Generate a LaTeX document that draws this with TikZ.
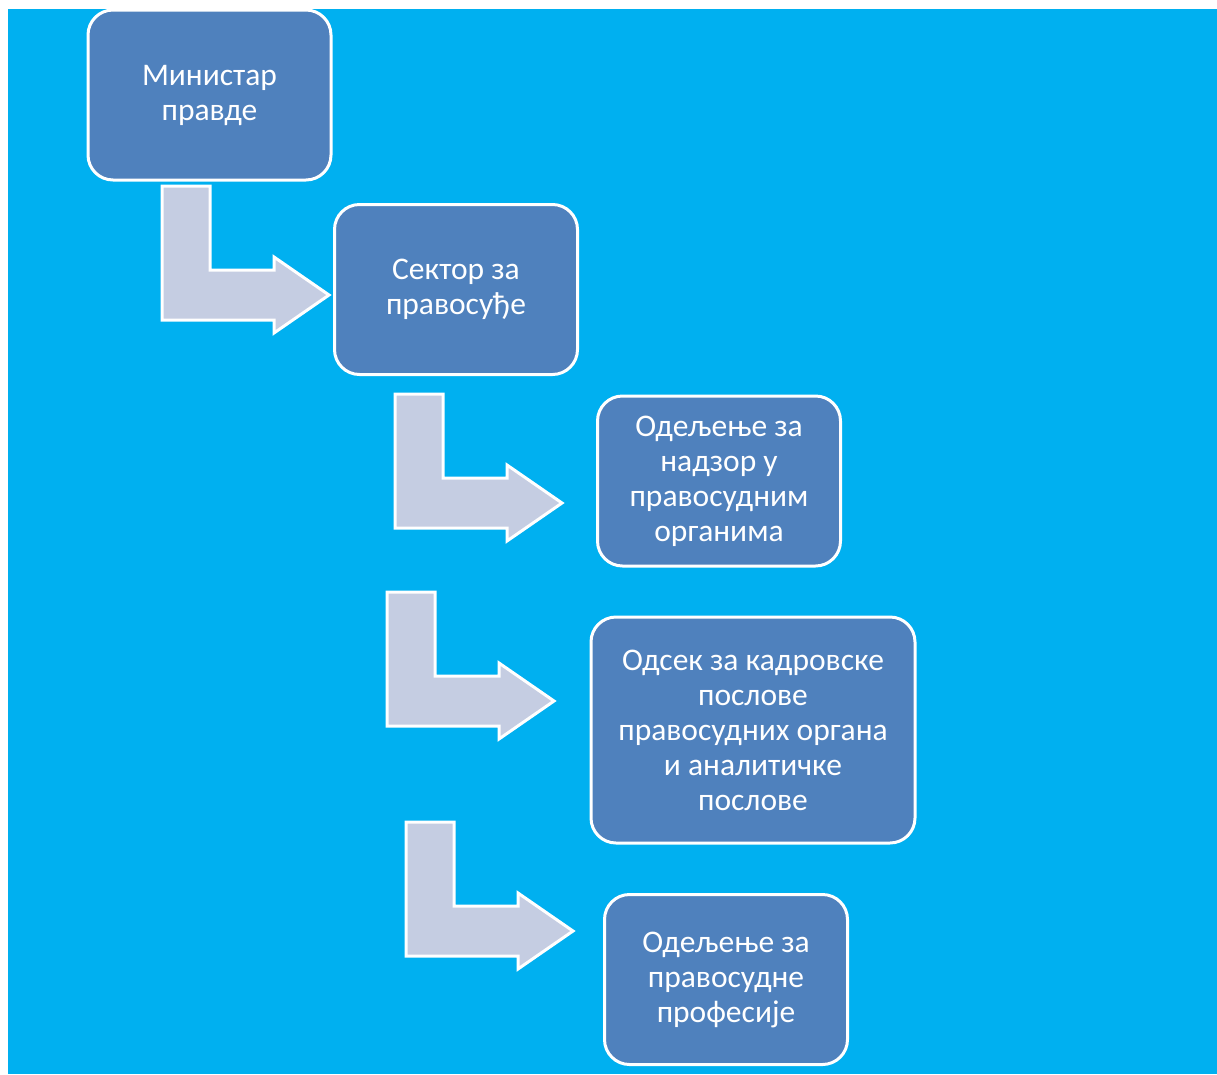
\documentclass[tikz,border=0pt]{standalone}
\usepackage{fontspec}
\setmainfont{Carlito}
\usetikzlibrary{positioning}

\definecolor{bgcyan}{HTML}{00B0F0}
\definecolor{boxblue}{HTML}{4F81BD}
\definecolor{arrowgray}{HTML}{C5CDE2}

\begin{document}
\begin{tikzpicture}[x=1pt,y=-1pt]
	\tikzset{
	  basic/.style  = {draw=white, line width=3pt, rounded corners=25pt, fill=boxblue,
	                   text=white, font=\fontsize{31.5}{35}\selectfont, align=center},
	  unit/.style   = {basic, minimum width=243pt, minimum height=170pt},
	  bent/.pic     = {\draw[draw=white, line width=3pt, fill=arrowgray, line join=miter]
	                   (0,0) -- (48,0) -- (48,84) -- (112,84) -- (112,71) -- (167,109)
	                   -- (112,147) -- (112,134) -- (0,134) -- cycle;}
	}
	\useasboundingbox (0,0) rectangle (1217,1074);
	\fill[bgcyan] (8,9) rectangle (1217,1074);

	\node[unit] (min) at (209.5,95) {Министар\\правде};
	\node[unit] (sek) at (456,289.5) {Сектор за\\правосуђе};
	\node[unit] (nadzor) at (719,481) {Одељење за\\надзор у\\правосудним\\органима};
	\node[basic, minimum width=324pt, minimum height=226pt] (odsek) at (753,730)
	  {Одсек за кадровске\\послове\\правосудних органа\\и аналитичке\\послове};
	\node[unit] (prof) at (726,979.5) {Одељење за\\правосудне\\професије};

	% the bent arrows between the levels
	\pic at (162,186) {bent};
	\pic at (395,394) {bent};
	\pic at (387,592) {bent};
	\pic at (406,822) {bent};
\end{tikzpicture}
\end{document}
